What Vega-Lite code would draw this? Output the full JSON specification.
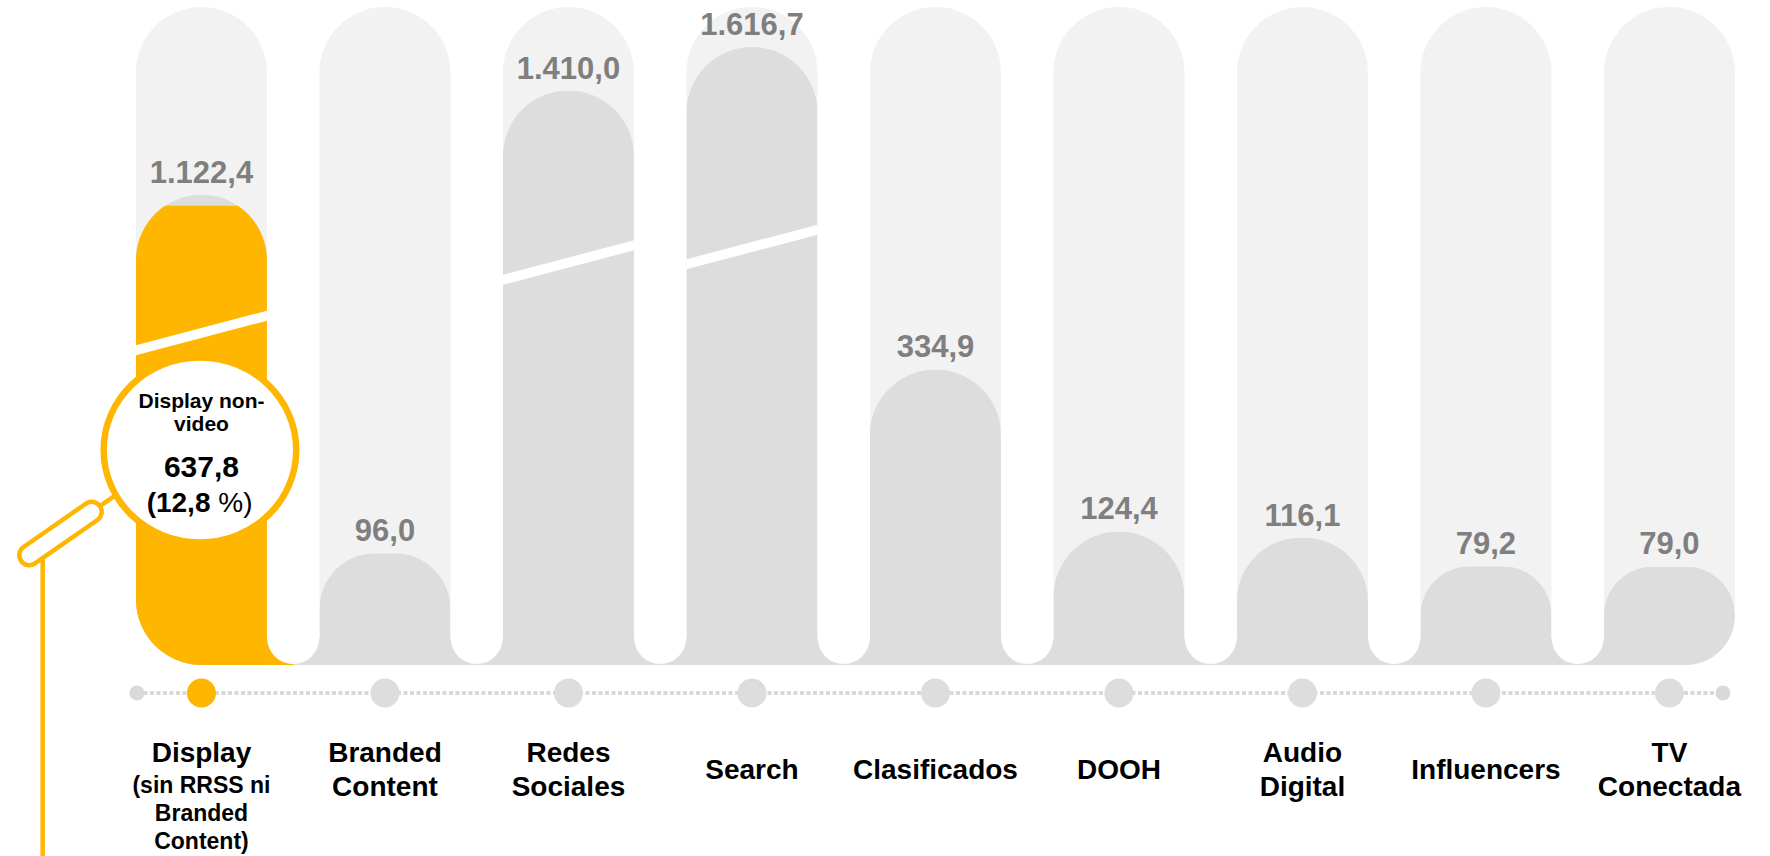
{
  "$schema": "https://vega.github.io/schema/vega-lite/v6.json",
  "width": 1770,
  "height": 658,
  "autosize": {"type": "none"},
  "padding": {"left": 0, "top": 7, "right": 0, "bottom": 191},
  "background": "white",
  "config": {
    "view": {"stroke": null},
    "font": "Liberation Sans",
    "locale": {"number": {"decimal": ",", "thousands": ".", "grouping": [3], "currency": ["(", ""]}}
  },
  "datasets": {
    "main": [
      {"cat": "Display", "label": "Display", "sub": "(sin RRSS ni\nBranded\nContent)", "value": 1122.4},
      {"cat": "Branded", "label": "Branded\nContent", "value": 96.0},
      {"cat": "Redes", "label": "Redes\nSociales", "value": 1410.0},
      {"cat": "Search", "label": "Search", "value": 1616.7},
      {"cat": "Clasificados", "label": "Clasificados", "value": 334.9},
      {"cat": "DOOH", "label": "DOOH", "value": 124.4},
      {"cat": "Audio", "label": "Audio\nDigital", "value": 116.1},
      {"cat": "Influencers", "label": "Influencers", "value": 79.2},
      {"cat": "TV", "label": "TV\nConectada", "value": 79.0}
    ],
    "note": [
      {"cat": "Display", "name": "Display non-\nvideo", "value": 637.8, "share": 12.8}
    ]
  },
  "layer": [
    {
      "data": {"name": "main"},
      "transform": [{"filter": "datum.cat !== 'Display' && datum.cat !== 'TV'"}],
      "mark": {"type": "bar", "color": "#F2F2F2", "cornerRadiusTopLeft": 65.5, "cornerRadiusTopRight": 65.5},
      "encoding": {
        "x": {"field": "cat", "type": "nominal", "axis": null,
          "scale": {"domain": ["Display", "Branded", "Redes", "Search", "Clasificados", "DOOH", "Audio", "Influencers", "TV"],
            "paddingInner": 0.2861, "paddingOuter": 0.466, "align": 0.795}},
        "y": {"datum": 1814, "type": "quantitative", "axis": null,
          "scale": {"type": "linear", "domain": [0, 50, 335, 1122, 1420, 1814], "range": [658, 581.7, 362.3, 188, 80, 0], "nice": false, "zero": false}}
      }
    },
    {
      "data": {"name": "main"},
      "transform": [{"filter": "datum.cat === 'Display'"}],
      "mark": {"type": "bar", "color": "#F2F2F2", "cornerRadiusTopLeft": 65.5, "cornerRadiusTopRight": 65.5, "cornerRadiusBottomLeft": 65.5},
      "encoding": {"x": {"field": "cat", "type": "nominal", "axis": null}, "y": {"datum": 1814, "type": "quantitative", "axis": null}}
    },
    {
      "data": {"name": "main"},
      "transform": [{"filter": "datum.cat === 'TV'"}],
      "mark": {"type": "bar", "color": "#F2F2F2", "cornerRadiusTopLeft": 65.5, "cornerRadiusTopRight": 65.5, "cornerRadiusBottomRight": 65.5},
      "encoding": {"x": {"field": "cat", "type": "nominal", "axis": null}, "y": {"datum": 1814, "type": "quantitative", "axis": null}}
    },
    {
      "data": {"name": "note"},
      "mark": {"type": "rule", "color": "#DDDDDD", "strokeWidth": 26.5, "yOffset": -13.25, "strokeCap": "butt"},
      "encoding": {"x": {"datum": "Display", "axis": null}, "x2": {"datum": "TV"}, "y": {"datum": 0, "type": "quantitative", "axis": null}}
    },
    {
      "data": {"name": "note"},
      "mark": {"type": "rule", "color": "#FFB600", "strokeWidth": 26.5, "yOffset": -13.25, "strokeCap": "butt", "x2Offset": 91.75},
      "encoding": {"x": {"datum": "Display", "axis": null}, "x2": {"datum": "Display"}, "y": {"datum": 0, "type": "quantitative", "axis": null}}
    },
    {
      "data": {"name": "main"},
      "transform": [{"filter": "datum.cat !== 'Display' && datum.cat !== 'TV'"}],
      "mark": {"type": "bar", "color": "#DDDDDD", "cornerRadiusTopLeft": 65.5, "cornerRadiusTopRight": 65.5},
      "encoding": {"x": {"field": "cat", "type": "nominal", "axis": null}, "y": {"field": "value", "type": "quantitative", "axis": null}}
    },
    {
      "data": {"name": "main"},
      "transform": [{"filter": "datum.cat === 'Display'"}],
      "mark": {"type": "bar", "color": "#DDDDDD", "cornerRadiusTopLeft": 65.5, "cornerRadiusTopRight": 65.5, "cornerRadiusBottomLeft": 65.5},
      "encoding": {"x": {"field": "cat", "type": "nominal", "axis": null}, "y": {"field": "value", "type": "quantitative", "axis": null}}
    },
    {
      "data": {"name": "main"},
      "transform": [{"filter": "datum.cat === 'TV'"}],
      "mark": {"type": "bar", "color": "#DDDDDD", "cornerRadiusTopLeft": 65.5, "cornerRadiusTopRight": 65.5, "cornerRadiusBottomRight": 65.5},
      "encoding": {"x": {"field": "cat", "type": "nominal", "axis": null}, "y": {"field": "value", "type": "quantitative", "axis": null}}
    },
    {
      "data": {"name": "main"},
      "transform": [{"filter": "datum.cat === 'Display'"}],
      "mark": {"type": "bar", "color": "#FFB600", "yOffset": 11, "cornerRadiusTopLeft": 65.5, "cornerRadiusTopRight": 65.5, "cornerRadiusBottomLeft": 65.5},
      "encoding": {"x": {"field": "cat", "type": "nominal", "axis": null}, "y": {"field": "value", "type": "quantitative", "axis": null}}
    },
    {
      "data": {"name": "main"},
      "transform": [{"filter": "datum.cat !== 'TV'"}],
      "mark": {"type": "point", "shape": "circle", "filled": true, "color": "white", "opacity": 1, "size": 2704, "xOffset": 91.75, "yOffset": -27},
      "encoding": {"x": {"field": "cat", "type": "nominal", "axis": null}, "y": {"datum": 0, "type": "quantitative", "axis": null}}
    },
    {
      "data": {"name": "note"},
      "mark": {"type": "point", "shape": "M-65.5,12.25L65.5,-22.25L65.5,-12.25L-65.5,22.25Z", "filled": true, "color": "white", "opacity": 1, "size": 4},
      "encoding": {"x": {"datum": "Display", "axis": null}, "y": {"datum": 499, "type": "quantitative", "axis": null}}
    },
    {
      "data": {"name": "note"},
      "mark": {"type": "point", "shape": "M-65.5,12.25L65.5,-22.25L65.5,-12.25L-65.5,22.25Z", "filled": true, "color": "white", "opacity": 1, "size": 4},
      "encoding": {"x": {"datum": "Redes", "axis": null}, "y": {"datum": 817, "type": "quantitative", "axis": null}}
    },
    {
      "data": {"name": "note"},
      "mark": {"type": "point", "shape": "M-65.5,12.25L65.5,-22.25L65.5,-12.25L-65.5,22.25Z", "filled": true, "color": "white", "opacity": 1, "size": 4},
      "encoding": {"x": {"datum": "Search", "axis": null}, "y": {"datum": 887, "type": "quantitative", "axis": null}}
    },
    {
      "data": {"name": "main"},
      "mark": {"type": "text", "fontSize": 31, "fontWeight": "bold", "color": "#7F7F7F", "baseline": "alphabetic", "dy": -12},
      "encoding": {
        "x": {"field": "cat", "type": "nominal", "axis": null},
        "y": {"field": "value", "type": "quantitative", "axis": null},
        "text": {"field": "value", "type": "quantitative", "format": ",.1f"}
      }
    },
    {
      "data": {"name": "note"},
      "mark": {"type": "rule", "color": "#D9D9D9", "strokeWidth": 4, "strokeDash": [4, 2.5], "yOffset": 28, "xOffset": -64.5, "x2Offset": 53.5},
      "encoding": {"x": {"datum": "Display", "axis": null}, "x2": {"datum": "TV"}, "y": {"datum": 0, "type": "quantitative", "axis": null}}
    },
    {
      "data": {"name": "note"},
      "mark": {"type": "point", "shape": "circle", "filled": true, "color": "#D9D9D9", "opacity": 1, "size": 225, "xOffset": -64.5, "yOffset": 28},
      "encoding": {"x": {"datum": "Display", "axis": null}, "y": {"datum": 0, "type": "quantitative", "axis": null}}
    },
    {
      "data": {"name": "note"},
      "mark": {"type": "point", "shape": "circle", "filled": true, "color": "#D9D9D9", "opacity": 1, "size": 225, "xOffset": 53.5, "yOffset": 28},
      "encoding": {"x": {"datum": "TV", "axis": null}, "y": {"datum": 0, "type": "quantitative", "axis": null}}
    },
    {
      "data": {"name": "main"},
      "mark": {"type": "point", "shape": "circle", "filled": true, "opacity": 1, "size": 841, "yOffset": 28},
      "encoding": {
        "x": {"field": "cat", "type": "nominal", "axis": null},
        "y": {"datum": 0, "type": "quantitative", "axis": null},
        "color": {"condition": {"test": "datum.cat === 'Display'", "value": "#FFB600"}, "value": "#DDDDDD"}
      }
    },
    {
      "data": {"name": "main"},
      "transform": [{"filter": "indexof(datum.label, '\\n') < 0 && datum.cat !== 'Display'"}],
      "mark": {"type": "text", "fontSize": 28, "fontWeight": "bold", "color": "#000000", "baseline": "middle", "dy": 106},
      "encoding": {"x": {"field": "cat", "type": "nominal", "axis": null}, "y": {"datum": 0, "type": "quantitative", "axis": null}, "text": {"field": "label"}}
    },
    {
      "data": {"name": "main"},
      "transform": [{"filter": "indexof(datum.label, '\\n') >= 0 || datum.cat === 'Display'"}],
      "mark": {"type": "text", "fontSize": 28, "fontWeight": "bold", "color": "#000000", "baseline": "middle", "lineBreak": "\n", "lineHeight": 33.5, "dy": 89},
      "encoding": {"x": {"field": "cat", "type": "nominal", "axis": null}, "y": {"datum": 0, "type": "quantitative", "axis": null}, "text": {"field": "label"}}
    },
    {
      "data": {"name": "main"},
      "transform": [{"filter": "datum.cat === 'Display'"}],
      "mark": {"type": "text", "fontSize": 23, "fontWeight": "bold", "color": "#000000", "baseline": "middle", "lineBreak": "\n", "lineHeight": 28, "dy": 121},
      "encoding": {"x": {"field": "cat", "type": "nominal", "axis": null}, "y": {"datum": 0, "type": "quantitative", "axis": null}, "text": {"field": "sub"}}
    },
    {
      "data": {"name": "note"},
      "mark": {"type": "point", "shape": "M-101.59,56.1L-84.6,44.3M-115.5,53.6C-110.97,50.45,-104.74,51.57,-101.59,56.1C-98.44,60.63,-99.57,66.85,-104.1,70.0L-166.5,113.4C-171.03,116.55,-177.26,115.43,-180.41,110.9C-183.56,106.37,-182.43,100.15,-177.9,97.0ZM-158.8,108L-158.8,420",
        "filled": false, "fill": "white", "fillOpacity": 1, "stroke": "#FFB600", "strokeWidth": 4.5, "opacity": 1, "size": 4, "yOffset": -215},
      "encoding": {"x": {"field": "cat", "type": "nominal", "axis": null}, "y": {"datum": 0, "type": "quantitative", "axis": null}}
    },
    {
      "data": {"name": "note"},
      "mark": {"type": "point", "shape": "M96.3,0C96.3,51.09,53.19,92.5,0,92.5C-53.19,92.5,-96.3,51.09,-96.3,0C-96.3,-51.09,-53.19,-92.5,0,-92.5C53.19,-92.5,96.3,-51.09,96.3,0Z",
        "filled": false, "fill": "white", "fillOpacity": 1, "stroke": "#FFB600", "strokeWidth": 6.5, "opacity": 1, "size": 4, "xOffset": -1.5, "yOffset": -215},
      "encoding": {"x": {"field": "cat", "type": "nominal", "axis": null}, "y": {"datum": 0, "type": "quantitative", "axis": null}}
    },
    {
      "data": {"name": "note"},
      "mark": {"type": "text", "fontSize": 21, "fontWeight": "bold", "color": "#000000", "baseline": "alphabetic", "lineBreak": "\n", "lineHeight": 22.4, "dy": -256.7},
      "encoding": {"x": {"field": "cat", "type": "nominal", "axis": null}, "y": {"datum": 0, "type": "quantitative", "axis": null}, "text": {"field": "name"}}
    },
    {
      "data": {"name": "note"},
      "mark": {"type": "text", "fontSize": 30, "fontWeight": "bold", "color": "#000000", "baseline": "alphabetic", "dy": -188.3},
      "encoding": {"x": {"field": "cat", "type": "nominal", "axis": null}, "y": {"datum": 0, "type": "quantitative", "axis": null}, "text": {"field": "value", "type": "quantitative", "format": ",.1f"}}
    },
    {
      "data": {"name": "note"},
      "mark": {"type": "text", "fontSize": 28, "fontWeight": "bold", "color": "#000000", "baseline": "alphabetic", "align": "right", "dx": 9, "dy": -153.3},
      "encoding": {"x": {"field": "cat", "type": "nominal", "axis": null}, "y": {"datum": 0, "type": "quantitative", "axis": null}, "text": {"field": "share", "type": "quantitative", "format": "$.1f"}}
    },
    {
      "data": {"name": "note"},
      "mark": {"type": "text", "fontSize": 28, "fontWeight": "normal", "color": "#000000", "baseline": "alphabetic", "align": "left", "dx": 16.8, "dy": -153.3},
      "encoding": {"x": {"field": "cat", "type": "nominal", "axis": null}, "y": {"datum": 0, "type": "quantitative", "axis": null}, "text": {"value": "%)"}}
    }
  ]
}
